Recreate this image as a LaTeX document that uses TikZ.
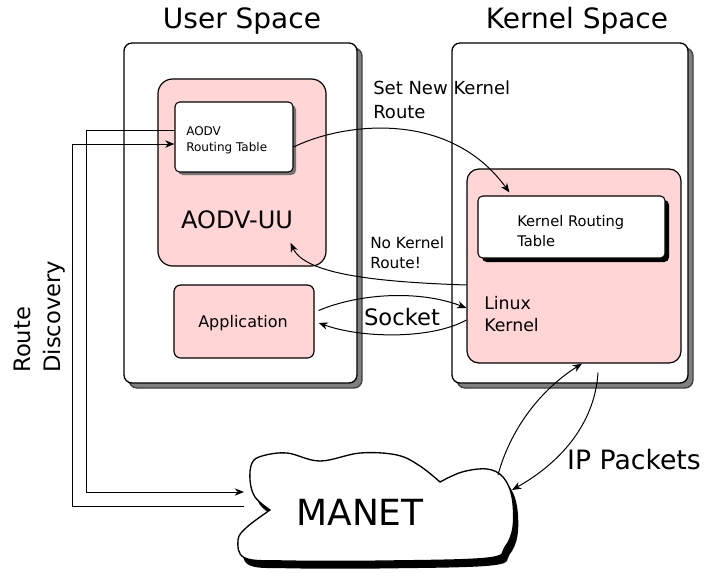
\documentclass[tikz,border=0pt]{standalone}
\usepackage{fontspec}
\setmainfont{DejaVu Sans}
\usetikzlibrary{arrows.meta,shadows,fit}
\definecolor{boxpink}{HTML}{FFD5D5}
\tikzset{
  spacebox/.style={draw, line width=1pt, fill=white, rounded corners=6pt, inner sep=0pt,
    drop shadow={shadow xshift=3.75pt, shadow yshift=-3.75pt, fill=black!50, draw=black!75, opacity=1}},
  modbox/.style={draw, line width=0.9pt, fill=boxpink, inner sep=0pt},
  tablebox/.style={draw, line width=0.8pt, fill=white, rounded corners=3.5pt, inner sep=0pt},
  lbl/.style={inner sep=0pt, align=left, anchor=west},
  link/.style={line width=0.75pt, -{Stealth[length=7pt,width=5.5pt]}},
}
\begin{document}
\begin{tikzpicture}[x=0.75pt, y=-0.75pt]
  \useasboundingbox (0,0) rectangle (706,572);
  % spaces
  \node[spacebox, fit={(124,43) (357,383)}] (user) {};
  \node[spacebox, fit={(452,43) (688,383)}] (kernel) {};
  \node[font=\fontsize{21}{25}\selectfont, anchor=base] (usertitle) at (242,28) {User Space};
  \node[font=\fontsize{21}{25}\selectfont, anchor=base] (kerneltitle) at (577,28) {Kernel Space};
  % user side
  \node[modbox, rounded corners=11pt, fit={(158,79) (326,266)}] (aodv) {};
  \node[tablebox, drop shadow={shadow xshift=2.25pt, shadow yshift=-2.25pt, fill=black!55, opacity=1},
    fit={(175,102) (293,172)}] (rtable) {};
  \node[lbl, font=\fontsize{9}{12}\selectfont] (rtabletext) at (186,140) {AODV\\Routing Table};
  \node[font=\fontsize{18}{22}\selectfont] (aodvtext) at (237,220) {AODV-UU};
  \node[modbox, rounded corners=5pt, fit={(174,285) (314,358)}] (app) {};
  \node[font=\fontsize{12}{15}\selectfont] (apptext) at (243,323) {Application};
  % kernel side
  \node[modbox, rounded corners=9pt, fit={(467,169) (681,363)}] (kbox) {};
  \node[tablebox, drop shadow={shadow xshift=3pt, shadow yshift=-3pt, fill=black, opacity=1},
    fit={(478,196) (665,258)}] (ktable) {};
  \node[lbl, font=\fontsize{11}{15}\selectfont] (ktabletext) at (517,231) {Kernel Routing\\Table};
  \node[lbl, font=\fontsize{13}{17}\selectfont] (linuxtext) at (484,314) {Linux\\Kernel};
  % network
  \draw[line width=1pt, fill=white,
    drop shadow={shadow xshift=3.5pt, shadow yshift=-5.5pt, fill=black, opacity=1}]
    plot[smooth, tension=0.6] coordinates {(270,510) (255,497) (250,480) (252,463) (262,456) (287,453)
      (320,461) (360,453) (397,455) (420,466) (440,482)}
    -- plot[smooth, tension=0.6] coordinates {(440,482) (462,472) (487,469) (503,477) (512,497)
      (513,527) (505,547) (488,558) (387,561) (287,561) (245,558) (238,540) (247,527) (270,510)}
    -- cycle;
  \node[font=\fontsize{27}{32}\selectfont] (manet) at (360,512) {MANET};
  \coordinate (cin) at (244,492);
  \coordinate (cout) at (244,506);
  \coordinate (cup) at (498,475);
  \coordinate (cdown) at (512,490);
  % labels
  \node[lbl, font=\fontsize{13.5}{18}\selectfont] (settext) at (373,100) {Set New Kernel\\Route};
  \node[lbl, font=\fontsize{11.5}{15}\selectfont] (notext) at (370,253) {No Kernel\\Route!};
  \node[font=\fontsize{17}{20}\selectfont] (sockettext) at (402,317) {Socket};
  \node[lbl, rotate=90, font=\fontsize{17}{22.5}\selectfont] (disctext) at (40,373) {Route\\Discovery};
  \node[font=\fontsize{20}{24}\selectfont] (iptext) at (634,460) {IP Packets};
  % links
  \draw[link] ([yshift=-7.5pt]rtable.east) .. controls (345,122) and (450,110) .. ([xshift=24pt,yshift=2.25pt]ktable.north west);
  \draw[link] ([yshift=-14.25pt]kbox.west) .. controls (380,282) and (305,275) .. ([xshift=-5.25pt,yshift=-6.75pt]aodvtext.south east);
  \draw[link] ([xshift=3pt,yshift=8.25pt]app.east) .. controls (360,293) and (420,290) .. ([yshift=-31.5pt]kbox.west);
  \draw[link] ([yshift=-40.5pt]kbox.west) .. controls (430,340) and (360,338) .. ([xshift=3pt,yshift=-1pt]app.east);
  \draw[link] ([yshift=5.25pt]rtable.west) -- ++(-88,0) |- (cin);
  \draw[link] (cout) -- ++(-172,0) |- ([yshift=-5.25pt]rtable.west);
  \draw[link] (cup) .. controls (510,430) and (540,390) .. ([xshift=6pt]kbox.south);
  \draw[link] ([xshift=18pt,yshift=-6.75pt]kbox.south) .. controls (595,420) and (565,460) .. (cdown);
\end{tikzpicture}
\end{document}
